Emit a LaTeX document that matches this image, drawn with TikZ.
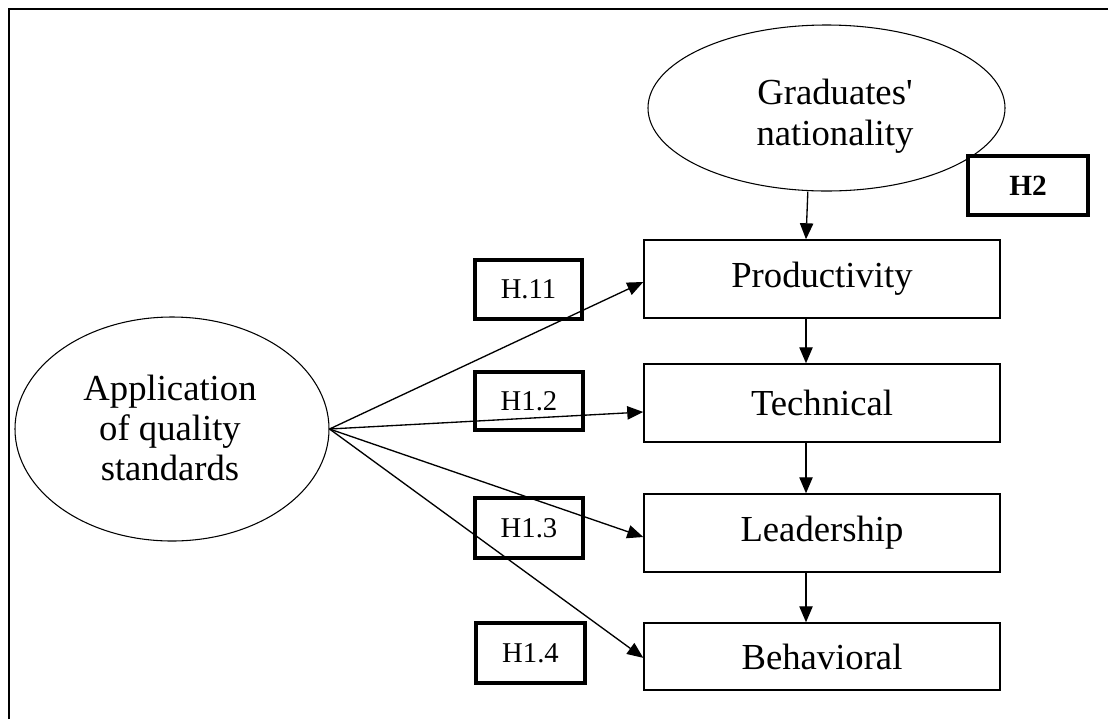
\documentclass[tikz,border=0pt]{standalone}
\usepackage{fontspec}
\setmainfont{Liberation Serif}[Ligatures=TeXOff]
\usetikzlibrary{arrows.meta,shapes.geometric}
\begin{document}
\begin{tikzpicture}[x=0.75pt,y=-0.75pt,
  var/.style={draw,line width=1.1pt,minimum width=267pt,inner sep=0pt,font=\fontsize{27.5}{30}\selectfont},
  hyp/.style={draw,line width=2.6pt,inner sep=0pt,font=\fontsize{21.5}{24}\selectfont},
  lat/.style={draw,ellipse,line width=0.8pt,inner sep=0pt},
  lattext/.style={align=center,inner sep=0pt,font=\fontsize{27.5}{30.5}\selectfont},
  arr/.style={line width=1pt,-{Triangle[length=12pt,width=10pt]}}]
\useasboundingbox (0,0) rectangle (1108,719);
\draw[line width=1.6pt] (9,719) -- (9,9) -- (1108,9);
% latent variables
\node[lat,minimum width=267.75pt,minimum height=124.5pt] (grad) at (826.5,108) {};
\node[lattext] (gradtext) at (835,116) {Graduates'\\nationality};
\node[lat,minimum width=235.5pt,minimum height=168pt] (app) at (172,429) {};
\node[lattext,font=\fontsize{27.5}{30}\selectfont] (apptext) at (170,428) {Application\\of quality\\standards};
% outcome boxes
\node[var,minimum height=58.5pt] (prod) at (822,279) {Productivity};
\node[var,minimum height=58.5pt] (tech) at (822,403) {Technical};
\node[var,minimum height=58.5pt] (lead) at (822,533) {Leadership};
\node[var,minimum height=50.25pt] (behv) at (822,656.5) {Behavioral};
% hypothesis labels
\node[hyp,minimum width=80.25pt,minimum height=44.25pt] (h11) at (528.5,289.5) {H.11};
\node[hyp,minimum width=81pt,minimum height=43.5pt] (h12) at (529,401) {H1.2};
\node[hyp,minimum width=81pt,minimum height=45pt] (h13) at (529,528) {H1.3};
\node[hyp,minimum width=81.75pt,minimum height=45pt] (h14) at (530.5,653) {H1.4};
\node[hyp,minimum width=90pt,minimum height=44.25pt,font=\bfseries\fontsize{22}{24}\selectfont] (h2) at (1028,185.5) {H2};
% connectors
\coordinate (apx) at (app.east);
\draw[arr] (apx) -- ([yshift=-2.25pt]prod.west);
\draw[arr] (apx) -- ([yshift=-6.75pt]tech.west);
\draw[arr] (apx) -- ([yshift=-3pt]lead.west);
\draw[arr] (apx) -- ([yshift=-1pt]behv.west);
\draw[arr] ([xshift=-14pt]grad.south) -- ([xshift=-12pt]prod.north);
\draw[arr] ([xshift=-12pt]prod.south) -- ([xshift=-12pt]tech.north);
\draw[arr] ([xshift=-12pt]tech.south) -- ([xshift=-12pt]lead.north);
\draw[arr] ([xshift=-12pt]lead.south) -- ([xshift=-12pt]behv.north);
\end{tikzpicture}
\end{document}
